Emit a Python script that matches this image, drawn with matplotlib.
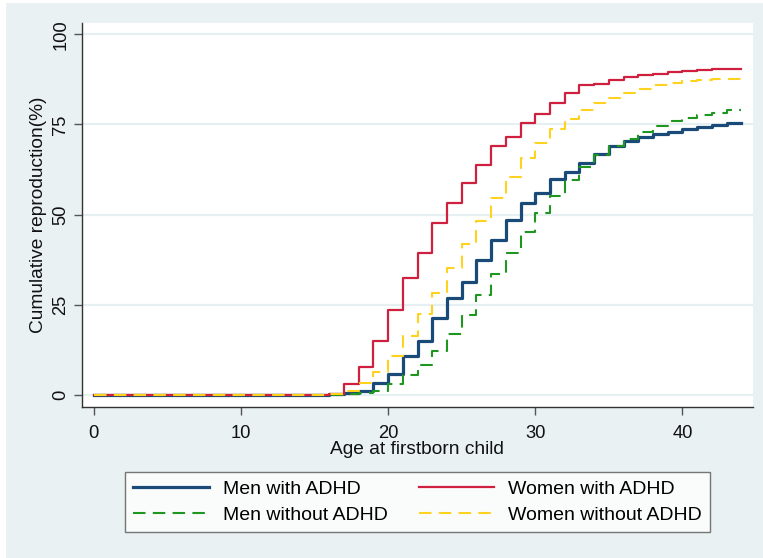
import matplotlib
matplotlib.use("Agg")
import matplotlib.pyplot as plt
from matplotlib.patches import Rectangle

plt.rcParams['font.family'] = ['Liberation Sans', 'DejaVu Sans']

ages = list(range(0, 45))
zeros16 = [0.0] * 16
men_adhd = zeros16 + [0.3, 0.5, 1.0, 3.2, 5.8, 10.9, 15.0, 21.3, 27.0, 31.4, 37.4, 43.0, 48.6, 53.3,
                      56.1, 59.8, 61.7, 64.2, 66.8, 68.9, 70.3, 71.4, 72.3, 72.9, 73.7, 74.3, 74.8, 75.3, 75.3]
women_adhd = zeros16 + [0.3, 3.0, 7.7, 15.0, 23.5, 32.4, 39.5, 47.6, 53.2, 58.9, 63.8, 68.9, 71.4, 75.3,
                        77.8, 80.9, 83.6, 85.8, 86.3, 87.3, 88.1, 88.6, 89.1, 89.6, 89.9, 90.1, 90.3, 90.5, 90.5]
men_no_adhd = zeros16 + [0.1, 0.3, 0.5, 1.2, 3.0, 5.6, 8.4, 12.3, 16.9, 22.2, 27.7, 33.5, 39.5, 45.1,
                         50.4, 55.2, 59.6, 63.3, 66.5, 68.9, 71.1, 72.9, 74.6, 76.0, 76.9, 77.7, 78.3, 79.0, 79.0]
women_no_adhd = zeros16 + [0.2, 1.2, 3.2, 6.3, 10.9, 16.4, 22.4, 28.4, 35.1, 41.8, 48.3, 54.7, 60.5, 65.6,
                           69.8, 73.6, 76.6, 78.9, 80.9, 82.4, 83.8, 84.9, 85.9, 86.6, 87.1, 87.4, 87.5, 87.6, 87.6]

labels = ["Men with ADHD", "Women with ADHD", "Men without ADHD", "Women without ADHD"]
xticks = [0, 10, 20, 30, 40]
yticks = [0, 25, 50, 75, 100]

W, H = 763, 558
fig = plt.figure(figsize=(W / 100, H / 100), dpi=100)
fig.patch.set_facecolor('white')
bg = '#e9f1f3'
fig.patches.append(Rectangle((6 / W, 0), 1 - 6 / W, 1 - 3 / H, transform=fig.transFigure,
                             facecolor=bg, edgecolor='none', zorder=-10))

ax = fig.add_axes([81.7 / W, 1 - 407.3 / H, (752.7 - 81.7) / W, (407.3 - 22.7) / H])
ax.set_facecolor('white')

blue = '#1a4a78'
red = '#d0203f'
green = '#1f961f'
gold = '#ffd21f'

h1, = ax.plot(ages, men_adhd, drawstyle='steps-post', color=blue, lw=2.3, zorder=3)
h3, = ax.plot(ages, men_no_adhd, drawstyle='steps-post', color=green, lw=1.5, ls=(0, (6, 3.5)), zorder=3)
h2, = ax.plot(ages, women_adhd, drawstyle='steps-post', color=red, lw=1.6, zorder=4)
h4, = ax.plot(ages, women_no_adhd, drawstyle='steps-post', color=gold, lw=1.5, ls=(0, (6, 3.5)), zorder=5)

ax.set_xlim(-0.815, 44.77)
ax.set_ylim(-3.4, 103.2)
ax.set_xticks(xticks)
ax.set_yticks(yticks)
ax.yaxis.grid(True, color='#e6eff1', lw=1.6)
ax.set_axisbelow(True)

for s in ['top', 'right']:
    ax.spines[s].set_visible(False)
for s in ['left', 'bottom']:
    ax.spines[s].set_color('#333333')
    ax.spines[s].set_linewidth(1.0)

ax.tick_params(axis='both', direction='out', length=6, width=1, color='#555555',
               labelsize=13.2, labelcolor='#111111')
ax.tick_params(axis='x', pad=7)
ax.tick_params(axis='y', pad=3)
for lbl in ax.get_yticklabels():
    lbl.set_rotation(90)
    lbl.set_va('center')

ax.set_xlabel("Age at firstborn child", fontsize=13.8, color='#111111', labelpad=-1)
ax.set_ylabel("Cumulative reproduction(%)", fontsize=13.8, color='#111111', labelpad=4)

leg = fig.legend([h1, h3, h2, h4], [labels[0], labels[2], labels[1], labels[3]], ncol=2, loc='center',
                 bbox_to_anchor=((126.7 + 708.3) / 2 / W, 1 - 501.9 / H),
                 fontsize=14, frameon=True, fancybox=False, handlelength=3.9,
                 handletextpad=0.7, columnspacing=1.6, borderpad=0.42, labelspacing=0.45)
leg.get_frame().set_edgecolor('#555555')
leg.get_frame().set_linewidth(1.0)

fig.savefig('out.png', dpi=100, facecolor=fig.get_facecolor())
